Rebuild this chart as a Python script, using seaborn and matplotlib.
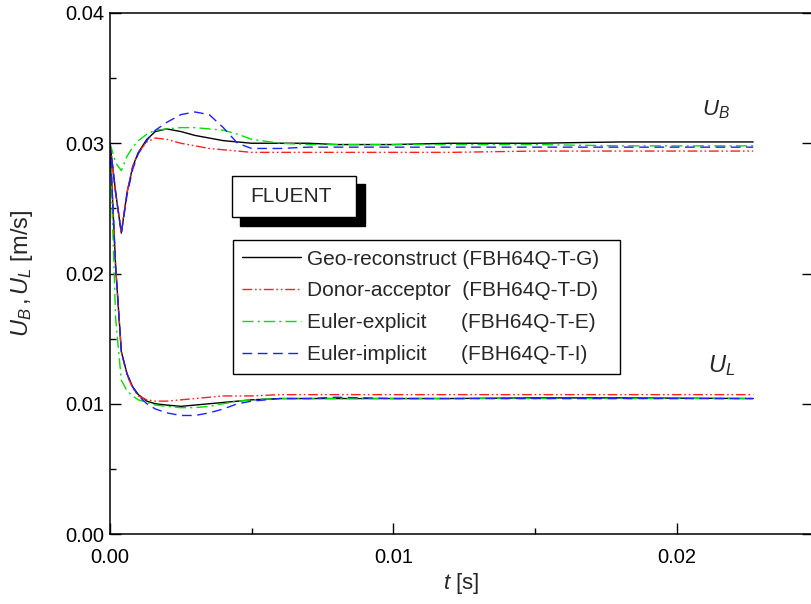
import matplotlib
matplotlib.use("Agg")
import matplotlib.pyplot as plt
from matplotlib.lines import Line2D
from matplotlib.patches import Rectangle
from matplotlib.ticker import MultipleLocator, FormatStrFormatter
import pandas as pd
import seaborn as sns

# time grid [s]
t = [0, 0.0002, 0.0004, 0.0006, 0.0008, 0.001, 0.0013, 0.0016, 0.002, 0.0025,
     0.003, 0.0035, 0.004, 0.0045, 0.005, 0.006, 0.007, 0.008, 0.010, 0.012,
     0.015, 0.018, 0.0227]

# bubble velocity U_B [m/s]
ub_geo = [0.0300, 0.0262, 0.0231, 0.0262, 0.0282, 0.0293, 0.0303, 0.0309, 0.0311, 0.0309,
          0.0306, 0.0304, 0.0302, 0.0301, 0.0300, 0.0300, 0.0300, 0.0299, 0.0299, 0.0300,
          0.0300, 0.0301, 0.0301]
ub_donor = [0.0300, 0.0262, 0.0232, 0.0262, 0.0282, 0.0293, 0.0301, 0.0304, 0.0303, 0.0300,
            0.0298, 0.0296, 0.0295, 0.0294, 0.0293, 0.0293, 0.0293, 0.0293, 0.0293, 0.0293,
            0.0294, 0.0294, 0.0294]
ub_explicit = [0.0300, 0.0285, 0.0279, 0.0290, 0.0297, 0.0302, 0.0307, 0.0310, 0.0311, 0.0312,
               0.0312, 0.0311, 0.0310, 0.0307, 0.0303, 0.0300, 0.0299, 0.0299, 0.0299, 0.0299,
               0.0299, 0.0298, 0.0298]
ub_implicit = [0.0300, 0.0262, 0.0231, 0.0260, 0.0280, 0.0292, 0.0302, 0.0310, 0.0316, 0.0322,
               0.0324, 0.0322, 0.0312, 0.0300, 0.0296, 0.0296, 0.0297, 0.0297, 0.0297, 0.0297,
               0.0297, 0.0297, 0.0297]

# liquid velocity U_L [m/s]
ul_geo = [0.0300, 0.0205, 0.0140, 0.0123, 0.0113, 0.0107, 0.0102, 0.0100, 0.0099, 0.0098,
          0.0099, 0.0100, 0.0101, 0.0102, 0.0103, 0.0104, 0.0104, 0.0104, 0.0104, 0.0104,
          0.01045, 0.01045, 0.0104]
ul_donor = [0.0300, 0.0205, 0.0140, 0.0122, 0.0112, 0.0106, 0.0103, 0.0102, 0.0102, 0.0103,
            0.0104, 0.0105, 0.0106, 0.0106, 0.0106, 0.0107, 0.0107, 0.0107, 0.0107, 0.0107,
            0.0107, 0.0107, 0.0107]
ul_explicit = [0.0300, 0.0165, 0.0118, 0.0110, 0.0106, 0.0103, 0.0101, 0.0099, 0.0098, 0.0097,
               0.0097, 0.0098, 0.0100, 0.0102, 0.0103, 0.0104, 0.0104, 0.0104, 0.0104, 0.0104,
               0.0104, 0.0104, 0.0104]
ul_implicit = [0.0300, 0.0205, 0.0140, 0.0123, 0.0113, 0.0106, 0.0100, 0.0096, 0.0093, 0.0091,
               0.0091, 0.0093, 0.0096, 0.0100, 0.0102, 0.0104, 0.0104, 0.0105, 0.0104, 0.0104,
               0.0104, 0.0104, 0.0104]

methods = ["Geo-reconstruct", "Donor-acceptor", "Euler-explicit", "Euler-implicit"]
codes = ["(FBH64Q-T-G)", "(FBH64Q-T-D)", "(FBH64Q-T-E)", "(FBH64Q-T-I)"]
pads = [" ", "  ", "      ", "      "]
colors = ["black", "#ff2020", "#00e000", "#2020ff"]
dashes = ["-", (0, (7, 2, 1.2, 2, 1.2, 2)), (0, (8, 3, 1.5, 3)), (0, (7, 4))]

sns.set_theme(style="ticks")
plt.rcParams["font.family"] = ["Liberation Sans", "DejaVu Sans"]
plt.rcParams["mathtext.fontset"] = "custom"
plt.rcParams["mathtext.it"] = "Liberation Sans:italic"
plt.rcParams["mathtext.rm"] = "Liberation Sans"

W, H = 812, 604
fig = plt.figure(figsize=(W / 100, H / 100), dpi=100)
ax = fig.add_axes([110 / W, (H - 534) / H, 703 / W, 521 / H])

ub = [ub_geo, ub_donor, ub_explicit, ub_implicit]
ul = [ul_geo, ul_donor, ul_explicit, ul_implicit]
handles = []
for i in range(4):
    df = pd.DataFrame({"t": t, "UB": ub[i], "UL": ul[i]})
    for col in ["UB", "UL"]:
        sns.lineplot(data=df, x="t", y=col, ax=ax, color=colors[i], lw=1.0,
                     linestyle=dashes[i], sort=False)
    handles.append(Line2D([], [], color=colors[i], lw=1.0, linestyle=dashes[i]))

ax.set_xlim(0, 0.02481)
ax.set_ylim(0, 0.04)
ax.xaxis.set_major_locator(MultipleLocator(0.01))
ax.xaxis.set_minor_locator(MultipleLocator(0.005))
ax.yaxis.set_major_locator(MultipleLocator(0.01))
ax.yaxis.set_minor_locator(MultipleLocator(0.005))
ax.xaxis.set_major_formatter(FormatStrFormatter("%.2f"))
ax.yaxis.set_major_formatter(FormatStrFormatter("%.2f"))
ax.tick_params(which="both", direction="in", labelsize=14.5, colors="black",
               right=True, top=False)
ax.tick_params(which="major", length=8, width=1)
ax.tick_params(which="minor", length=4.5, width=1, right=False)
ax.tick_params(axis="x", pad=10)
ax.tick_params(axis="y", pad=4)
for s in ax.spines.values():
    s.set_linewidth(1.1)
    s.set_color("black")

ax.set_xlabel("$t$ [s]", fontsize=16, labelpad=3)
ax.set_ylabel("$U_{B}\\,,U_{L}$ [m/s]", fontsize=17, labelpad=22)

ax.text(0.0209, 0.0321, "$U_{B}$", fontsize=16, ha="left", va="baseline")
ax.text(0.0211, 0.01244, "$U_{L}$", fontsize=17, ha="left", va="baseline")

leg = ax.legend(handles, [m + p + c + "  " for m, p, c in zip(methods, pads, codes)],
                loc="upper left", bbox_to_anchor=(0.175, 0.564), borderaxespad=0,
                fontsize=15, frameon=True, fancybox=False, framealpha=1,
                edgecolor="black", handlelength=2.8, handletextpad=0.3,
                labelspacing=0.62, borderpad=0.45)
leg.get_frame().set_linewidth(1.0)

# FLUENT box with drop shadow
ax.add_patch(Rectangle((240 / W, (H - 226) / H), 125 / W, 42 / H, transform=fig.transFigure,
                       facecolor="black", edgecolor="black", zorder=5, clip_on=False))
ax.add_patch(Rectangle((232 / W, (H - 217) / H), 124 / W, 41 / H, transform=fig.transFigure,
                       facecolor="white", edgecolor="black", lw=1.0, zorder=6, clip_on=False))
fig.text(291 / W, (H - 197) / H, "FLUENT", fontsize=15, ha="center", va="center", zorder=7)

fig.savefig("out.png", dpi=100)
